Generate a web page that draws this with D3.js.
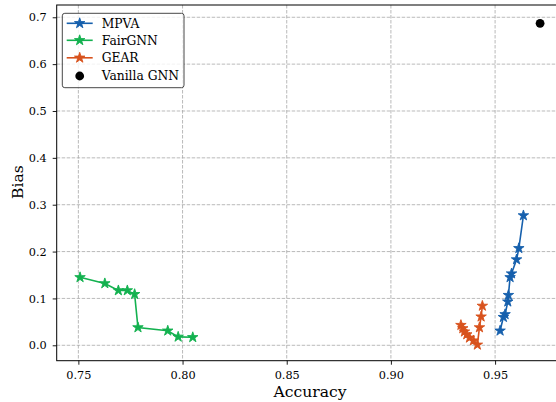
<!DOCTYPE html>
<html>
<head>
<meta charset="utf-8">
<script src="https://cdn.jsdelivr.net/npm/d3@7"></script>
<style>
  html, body { margin: 0; padding: 0; background: #fff; }
  svg { display: block; }
  svg text { font-family: "DejaVu Serif", serif; }
</style>
</head>
<body>
<svg id="chart" width="556" height="402"></svg>
<script>
const seriesNames = ["MPVA", "FairGNN", "GEAR"];
const mpvaAcc  = [0.9524, 0.9540, 0.9548, 0.9561, 0.9564, 0.9572, 0.9579, 0.9603, 0.9614, 0.9636];
const mpvaBias = [0.031, 0.060, 0.066, 0.093, 0.107, 0.145, 0.153, 0.183, 0.207, 0.277];
const fairAcc  = [0.7508, 0.7627, 0.7692, 0.7735, 0.7770, 0.7786, 0.7929, 0.7979, 0.8049];
const fairBias = [0.145, 0.132, 0.117, 0.117, 0.109, 0.038, 0.031, 0.018, 0.017];
const gearAcc  = [0.9336, 0.9345, 0.9353, 0.9364, 0.9377, 0.9396, 0.9415, 0.9425, 0.9433, 0.9439];
const gearBias = [0.043, 0.036, 0.029, 0.023, 0.016, 0.010, 0.001, 0.038, 0.061, 0.084];
const vanillaName = "Vanilla GNN";
const vanillaAcc = 0.9716, vanillaBias = 0.687;
const xTicks = [0.75, 0.80, 0.85, 0.90, 0.95];
const yTicks = [0.0, 0.1, 0.2, 0.3, 0.4, 0.5, 0.6, 0.7];
const xLabel = "Accuracy", yLabel = "Bias";

const colors = ["#1660ad", "#13b14f", "#d8521d"];
const series = [
  {name: seriesNames[0], acc: mpvaAcc, bias: mpvaBias, color: colors[0]},
  {name: seriesNames[1], acc: fairAcc, bias: fairBias, color: colors[1]},
  {name: seriesNames[2], acc: gearAcc, bias: gearBias, color: colors[2]}
];

const svg = d3.select("#chart");
const L = 56.7, R = 562.8, T = 5, B = 360.7;
const x = d3.scaleLinear().domain([0.7396, 0.9825]).range([L, R]);
const y = d3.scaleLinear().domain([-0.0329, 0.7262]).range([B, T]);

// grid
const grid = svg.append("g");
grid.selectAll("line.gx").data(xTicks).enter().append("line")
  .attr("x1", d => x(d)).attr("x2", d => x(d)).attr("y1", T).attr("y2", B)
  .attr("stroke", "#a8a8a8").attr("stroke-width", 0.8).attr("stroke-dasharray", "3.5,1.5");
grid.selectAll("line.gy").data(yTicks).enter().append("line")
  .attr("x1", L).attr("x2", R).attr("y1", d => y(d)).attr("y2", d => y(d))
  .attr("stroke", "#a8a8a8").attr("stroke-width", 0.8).attr("stroke-dasharray", "3.5,1.5");

// axes
const xAxis = d3.axisBottom(x).tickValues(xTicks).tickFormat(d3.format(".2f")).tickSize(4).tickPadding(6);
const yAxis = d3.axisLeft(y).tickValues(yTicks).tickFormat(d3.format(".1f")).tickSize(4).tickPadding(6);
const gx = svg.append("g").attr("transform", `translate(0,${B})`).call(xAxis);
const gy = svg.append("g").attr("transform", `translate(${L},0)`).call(yAxis);
[gx, gy].forEach(g => {
  g.attr("font-family", null).attr("font-size", null);
  g.select(".domain").remove();
  g.selectAll("text").attr("font-size", 11.3).attr("fill", "#000");
  g.selectAll("line").attr("stroke", "#000").attr("stroke-width", 0.9);
});
// spines
svg.append("rect").attr("x", L).attr("y", T).attr("width", R - L).attr("height", B - T)
  .attr("fill", "none").attr("stroke", "#000").attr("stroke-width", 1);

// labels
svg.append("text").attr("x", 310).attr("y", 396.5).attr("text-anchor", "middle")
  .attr("font-size", 15.6).text(xLabel);
svg.append("text").attr("transform", `translate(23,${182}) rotate(-90)`).attr("text-anchor", "middle")
  .attr("font-size", 15.6).text(yLabel);

// series
const star = d3.symbol().type(d3.symbolStar).size(34);
const line = d3.line().x(d => x(d[0])).y(d => y(d[1]));
series.forEach(s => {
  const pts = s.acc.map((a, i) => [a, s.bias[i]]);
  svg.append("path").datum(pts).attr("d", line).attr("fill", "none")
    .attr("stroke", s.color).attr("stroke-width", 1.6);
  svg.append("g").selectAll("path").data(pts).enter().append("path")
    .attr("d", star).attr("transform", d => `translate(${x(d[0])},${y(d[1])})`)
    .attr("fill", s.color).attr("stroke", s.color).attr("stroke-width", 0.9);
});
svg.append("circle").attr("cx", x(vanillaAcc)).attr("cy", y(vanillaBias)).attr("r", 4.4).attr("fill", "#000");

// legend
const lg = svg.append("g");
lg.append("rect").attr("x", 62.3).attr("y", 13.3).attr("width", 121.7).attr("height", 74.4)
  .attr("rx", 2.5).attr("fill", "rgba(255,255,255,0.8)").attr("stroke", "#333").attr("stroke-width", 0.9);
const rowY = [23.3, 40.3, 57.8, 76];
series.forEach((s, i) => {
  lg.append("line").attr("x1", 66.7).attr("x2", 92.7).attr("y1", rowY[i]).attr("y2", rowY[i])
    .attr("stroke", s.color).attr("stroke-width", 1.6);
  lg.append("path").attr("d", star).attr("transform", `translate(79.7,${rowY[i]})`)
    .attr("fill", s.color).attr("stroke", s.color).attr("stroke-width", 0.9);
  lg.append("text").attr("x", 101.7).attr("y", rowY[i]).attr("dy", "0.36em").attr("font-size", 12.3).text(s.name);
});
lg.append("circle").attr("cx", 79.7).attr("cy", rowY[3]).attr("r", 4.4).attr("fill", "#000");
lg.append("text").attr("x", 101.7).attr("y", rowY[3]).attr("dy", "0.36em").attr("font-size", 12.3).text(vanillaName);
</script>
</body>
</html>
